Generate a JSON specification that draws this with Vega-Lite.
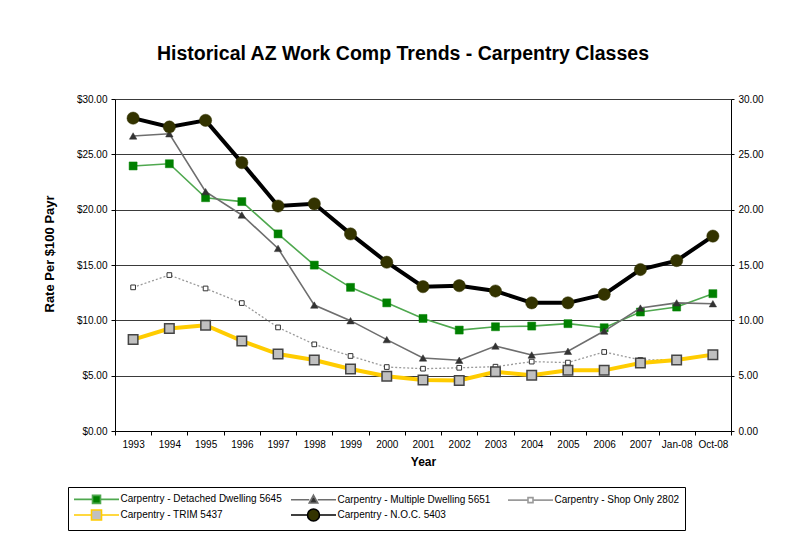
{
  "$schema": "https://vega.github.io/schema/vega-lite/v6.json",
  "autosize": {"type": "none"},
  "padding": {"left": 115, "top": 99, "right": 74, "bottom": 108},
  "width": 616,
  "height": 332,
  "background": "#ffffff",
  "title": {
    "text": "Historical AZ Work Comp Trends - Carpentry Classes",
    "fontSize": 19.5,
    "fontWeight": "bold",
    "font": "Liberation Sans",
    "color": "#000000",
    "anchor": "middle",
    "frame": "bounds",
    "offset": 30
  },
  "datasets": {
    "rates": [
      {"year": "1993", "series": "Carpentry - Detached  Dwelling 5645", "rate": 23.95},
      {"year": "1994", "series": "Carpentry - Detached  Dwelling 5645", "rate": 24.15},
      {"year": "1995", "series": "Carpentry - Detached  Dwelling 5645", "rate": 21.08},
      {"year": "1996", "series": "Carpentry - Detached  Dwelling 5645", "rate": 20.73},
      {"year": "1997", "series": "Carpentry - Detached  Dwelling 5645", "rate": 17.81},
      {"year": "1998", "series": "Carpentry - Detached  Dwelling 5645", "rate": 14.99},
      {"year": "1999", "series": "Carpentry - Detached  Dwelling 5645", "rate": 12.98},
      {"year": "2000", "series": "Carpentry - Detached  Dwelling 5645", "rate": 11.58},
      {"year": "2001", "series": "Carpentry - Detached  Dwelling 5645", "rate": 10.17},
      {"year": "2002", "series": "Carpentry - Detached  Dwelling 5645", "rate": 9.12},
      {"year": "2003", "series": "Carpentry - Detached  Dwelling 5645", "rate": 9.42},
      {"year": "2004", "series": "Carpentry - Detached  Dwelling 5645", "rate": 9.48},
      {"year": "2005", "series": "Carpentry - Detached  Dwelling 5645", "rate": 9.7},
      {"year": "2006", "series": "Carpentry - Detached  Dwelling 5645", "rate": 9.33},
      {"year": "2007", "series": "Carpentry - Detached  Dwelling 5645", "rate": 10.75},
      {"year": "Jan-08", "series": "Carpentry - Detached  Dwelling 5645", "rate": 11.2},
      {"year": "Oct-08", "series": "Carpentry - Detached  Dwelling 5645", "rate": 12.41},

      {"year": "1993", "series": "Carpentry - Multiple  Dwelling 5651", "rate": 26.66},
      {"year": "1994", "series": "Carpentry - Multiple  Dwelling 5651", "rate": 26.86},
      {"year": "1995", "series": "Carpentry - Multiple  Dwelling 5651", "rate": 21.63},
      {"year": "1996", "series": "Carpentry - Multiple  Dwelling 5651", "rate": 19.52},
      {"year": "1997", "series": "Carpentry - Multiple  Dwelling 5651", "rate": 16.5},
      {"year": "1998", "series": "Carpentry - Multiple  Dwelling 5651", "rate": 11.38},
      {"year": "1999", "series": "Carpentry - Multiple  Dwelling 5651", "rate": 9.97},
      {"year": "2000", "series": "Carpentry - Multiple  Dwelling 5651", "rate": 8.26},
      {"year": "2001", "series": "Carpentry - Multiple  Dwelling 5651", "rate": 6.6},
      {"year": "2002", "series": "Carpentry - Multiple  Dwelling 5651", "rate": 6.39},
      {"year": "2003", "series": "Carpentry - Multiple  Dwelling 5651", "rate": 7.68},
      {"year": "2004", "series": "Carpentry - Multiple  Dwelling 5651", "rate": 6.87},
      {"year": "2005", "series": "Carpentry - Multiple  Dwelling 5651", "rate": 7.2},
      {"year": "2006", "series": "Carpentry - Multiple  Dwelling 5651", "rate": 9.03},
      {"year": "2007", "series": "Carpentry - Multiple  Dwelling 5651", "rate": 11.11},
      {"year": "Jan-08", "series": "Carpentry - Multiple  Dwelling 5651", "rate": 11.58},
      {"year": "Oct-08", "series": "Carpentry - Multiple  Dwelling 5651", "rate": 11.5},

      {"year": "1993", "series": "Carpentry - Shop Only 2802", "rate": 12.98},
      {"year": "1994", "series": "Carpentry - Shop Only 2802", "rate": 14.09},
      {"year": "1995", "series": "Carpentry - Shop Only 2802", "rate": 12.88},
      {"year": "1996", "series": "Carpentry - Shop Only 2802", "rate": 11.56},
      {"year": "1997", "series": "Carpentry - Shop Only 2802", "rate": 9.36},
      {"year": "1998", "series": "Carpentry - Shop Only 2802", "rate": 7.83},
      {"year": "1999", "series": "Carpentry - Shop Only 2802", "rate": 6.78},
      {"year": "2000", "series": "Carpentry - Shop Only 2802", "rate": 5.78},
      {"year": "2001", "series": "Carpentry - Shop Only 2802", "rate": 5.63},
      {"year": "2002", "series": "Carpentry - Shop Only 2802", "rate": 5.71},
      {"year": "2003", "series": "Carpentry - Shop Only 2802", "rate": 5.81},
      {"year": "2004", "series": "Carpentry - Shop Only 2802", "rate": 6.27},
      {"year": "2005", "series": "Carpentry - Shop Only 2802", "rate": 6.18},
      {"year": "2006", "series": "Carpentry - Shop Only 2802", "rate": 7.14},
      {"year": "2007", "series": "Carpentry - Shop Only 2802", "rate": 6.42},
      {"year": "Jan-08", "series": "Carpentry - Shop Only 2802", "rate": 6.45},
      {"year": "Oct-08", "series": "Carpentry - Shop Only 2802", "rate": 6.93},

      {"year": "1993", "series": "Carpentry - TRIM 5437", "rate": 8.26},
      {"year": "1994", "series": "Carpentry - TRIM 5437", "rate": 9.26},
      {"year": "1995", "series": "Carpentry - TRIM 5437", "rate": 9.56},
      {"year": "1996", "series": "Carpentry - TRIM 5437", "rate": 8.14},
      {"year": "1997", "series": "Carpentry - TRIM 5437", "rate": 6.95},
      {"year": "1998", "series": "Carpentry - TRIM 5437", "rate": 6.42},
      {"year": "1999", "series": "Carpentry - TRIM 5437", "rate": 5.6},
      {"year": "2000", "series": "Carpentry - TRIM 5437", "rate": 4.94},
      {"year": "2001", "series": "Carpentry - TRIM 5437", "rate": 4.61},
      {"year": "2002", "series": "Carpentry - TRIM 5437", "rate": 4.56},
      {"year": "2003", "series": "Carpentry - TRIM 5437", "rate": 5.36},
      {"year": "2004", "series": "Carpentry - TRIM 5437", "rate": 5.03},
      {"year": "2005", "series": "Carpentry - TRIM 5437", "rate": 5.48},
      {"year": "2006", "series": "Carpentry - TRIM 5437", "rate": 5.48},
      {"year": "2007", "series": "Carpentry - TRIM 5437", "rate": 6.15},
      {"year": "Jan-08", "series": "Carpentry - TRIM 5437", "rate": 6.42},
      {"year": "Oct-08", "series": "Carpentry - TRIM 5437", "rate": 6.9},

      {"year": "1993", "series": "Carpentry - N.O.C. 5403", "rate": 28.27},
      {"year": "1994", "series": "Carpentry - N.O.C. 5403", "rate": 27.47},
      {"year": "1995", "series": "Carpentry - N.O.C. 5403", "rate": 28.07},
      {"year": "1996", "series": "Carpentry - N.O.C. 5403", "rate": 24.25},
      {"year": "1997", "series": "Carpentry - N.O.C. 5403", "rate": 20.33},
      {"year": "1998", "series": "Carpentry - N.O.C. 5403", "rate": 20.53},
      {"year": "1999", "series": "Carpentry - N.O.C. 5403", "rate": 17.81},
      {"year": "2000", "series": "Carpentry - N.O.C. 5403", "rate": 15.25},
      {"year": "2001", "series": "Carpentry - N.O.C. 5403", "rate": 13.04},
      {"year": "2002", "series": "Carpentry - N.O.C. 5403", "rate": 13.13},
      {"year": "2003", "series": "Carpentry - N.O.C. 5403", "rate": 12.65},
      {"year": "2004", "series": "Carpentry - N.O.C. 5403", "rate": 11.58},
      {"year": "2005", "series": "Carpentry - N.O.C. 5403", "rate": 11.58},
      {"year": "2006", "series": "Carpentry - N.O.C. 5403", "rate": 12.35},
      {"year": "2007", "series": "Carpentry - N.O.C. 5403", "rate": 14.59},
      {"year": "Jan-08", "series": "Carpentry - N.O.C. 5403", "rate": 15.4},
      {"year": "Oct-08", "series": "Carpentry - N.O.C. 5403", "rate": 17.61}
    ]
  },
  "data": {"name": "rates"},
  "encoding": {
    "x": {
      "field": "year",
      "type": "nominal",
      "bandPosition": 0.5,
      "scale": {
        "type": "band",
        "domain": ["1993", "1994", "1995", "1996", "1997", "1998", "1999", "2000", "2001", "2002", "2003", "2004", "2005", "2006", "2007", "Jan-08", "Oct-08"],
        "paddingInner": 0,
        "paddingOuter": 0
      },
      "axis": {
        "title": "Year",
        "titleFontSize": 12,
        "titlePadding": 7,
        "labelAngle": 0,
        "labelPadding": 4,
        "tickBand": "extent",
        "tickSize": 4,
        "grid": false
      }
    }
  },
  "layer": [
    {
      "transform": [{"filter": "datum.series === 'Carpentry - Detached  Dwelling 5645'"}],
      "mark": {"type": "line", "stroke": "#4fa84f", "strokeWidth": 1.6},
      "encoding": {
        "y": {
          "field": "rate",
          "type": "quantitative",
          "scale": {"domain": [0, 30], "nice": false, "zero": true},
          "axis": {
            "orient": "left",
            "format": "$.2f",
            "values": [0, 5, 10, 15, 20, 25, 30],
            "grid": true,
            "gridColor": "#3a3a3a",
            "gridWidth": 1,
            "tickSize": 4,
            "labelPadding": 4,
            "title": "Rate Per $100 Payr",
            "titleFontSize": 13,
            "titleAngle": 270,
            "titleAlign": "left",
            "titleBaseline": "bottom",
            "titleX": -59,
            "titleY": 213
          }
        }
      }
    },
    {
      "transform": [{"filter": "datum.series === 'Carpentry - Detached  Dwelling 5645'"}],
      "mark": {"type": "point", "shape": "square", "filled": true, "fill": "#008000", "stroke": "#008000", "strokeWidth": 0.5, "size": 64, "opacity": 1},
      "encoding": {
        "y": {
          "field": "rate",
          "type": "quantitative",
          "axis": {
            "orient": "right",
            "format": ".2f",
            "values": [0, 5, 10, 15, 20, 25, 30],
            "grid": false,
            "tickSize": 3,
            "labelPadding": 4,
            "title": null
          }
        }
      }
    },
    {
      "transform": [{"filter": "datum.series === 'Carpentry - Multiple  Dwelling 5651'"}],
      "mark": {"type": "line", "stroke": "#6e6e6e", "strokeWidth": 1.6},
      "encoding": {"y": {"field": "rate", "type": "quantitative", "axis": null}}
    },
    {
      "transform": [{"filter": "datum.series === 'Carpentry - Multiple  Dwelling 5651'"}],
      "mark": {"type": "point", "shape": "triangle-up", "filled": true, "fill": "#333333", "stroke": "#333333", "strokeWidth": 0.5, "size": 55, "opacity": 1},
      "encoding": {"y": {"field": "rate", "type": "quantitative", "axis": null}}
    },
    {
      "transform": [{"filter": "datum.series === 'Carpentry - Shop Only 2802'"}],
      "mark": {"type": "line", "stroke": "#9a9a9a", "strokeWidth": 1.3, "strokeDash": [2, 2]},
      "encoding": {"y": {"field": "rate", "type": "quantitative", "axis": null}}
    },
    {
      "transform": [{"filter": "datum.series === 'Carpentry - Shop Only 2802'"}],
      "mark": {"type": "point", "shape": "square", "filled": true, "fill": "#ffffff", "stroke": "#333333", "strokeWidth": 1, "size": 22, "opacity": 1},
      "encoding": {"y": {"field": "rate", "type": "quantitative", "axis": null}}
    },
    {
      "transform": [{"filter": "datum.series === 'Carpentry - TRIM 5437'"}],
      "mark": {"type": "line", "stroke": "#ffcc00", "strokeWidth": 4},
      "encoding": {"y": {"field": "rate", "type": "quantitative", "axis": null}}
    },
    {
      "transform": [{"filter": "datum.series === 'Carpentry - TRIM 5437'"}],
      "mark": {"type": "point", "shape": "square", "filled": true, "fill": "#c0c0c0", "stroke": "#444444", "strokeWidth": 1.5, "size": 90, "opacity": 1},
      "encoding": {"y": {"field": "rate", "type": "quantitative", "axis": null}}
    },
    {
      "transform": [{"filter": "datum.series === 'Carpentry - N.O.C. 5403'"}],
      "mark": {"type": "line", "stroke": "#000000", "strokeWidth": 4},
      "encoding": {"y": {"field": "rate", "type": "quantitative", "axis": null}}
    },
    {
      "transform": [{"filter": "datum.series === 'Carpentry - N.O.C. 5403'"}],
      "mark": {"type": "point", "shape": "circle", "filled": true, "fill": "#333300", "stroke": "#333300", "strokeWidth": 0.5, "size": 150, "opacity": 1},
      "encoding": {"y": {"field": "rate", "type": "quantitative", "axis": null}}
    },
    {
      "transform": [{"filter": "datum.rate < -100"}],
      "mark": {"type": "point", "filled": true, "size": 100, "opacity": 1},
      "encoding": {
        "y": {"field": "rate", "type": "quantitative", "axis": null},
        "shape": {
          "field": "series",
          "type": "nominal",
          "scale": {
            "domain": ["Carpentry - Detached  Dwelling 5645", "Carpentry - Multiple  Dwelling 5651", "Carpentry - Shop Only 2802", "Carpentry - TRIM 5437", "Carpentry - N.O.C. 5403"],
            "range": [
              "M-4.5,0H-0.8M0.8,0H4.5M-0.8,-0.8H0.8V0.8H-0.8Z",
              "M-4.5,0H-0.85M0.85,0H4.5M0,-0.9L0.85,0.65H-0.85Z",
              "M-4.5,0H-0.5M0.5,0H4.5M-0.5,-0.5H0.5V0.5H-0.5Z",
              "M-4.5,0H-1M1,0H4.5M-1,-1H1V1H-1Z",
              "M-4.5,0H-1.2M1.2,0H4.5M1.2,0A1.2,1.2,0,1,1,-1.2,0A1.2,1.2,0,1,1,1.2,0Z"
            ]
          },
          "legend": {
            "orient": "none",
            "legendX": -47,
            "legendY": 388,
            "columns": 3,
            "direction": "horizontal",
            "title": null
          }
        },
        "fill": {
          "field": "series",
          "type": "nominal",
          "scale": {
            "domain": ["Carpentry - Detached  Dwelling 5645", "Carpentry - Multiple  Dwelling 5651", "Carpentry - Shop Only 2802", "Carpentry - TRIM 5437", "Carpentry - N.O.C. 5403"],
            "range": ["#008000", "#333333", "#ffffff", "#c0c0c0", "#333300"]
          }
        },
        "stroke": {
          "field": "series",
          "type": "nominal",
          "scale": {
            "domain": ["Carpentry - Detached  Dwelling 5645", "Carpentry - Multiple  Dwelling 5651", "Carpentry - Shop Only 2802", "Carpentry - TRIM 5437", "Carpentry - N.O.C. 5403"],
            "range": ["#4fa84f", "#6e6e6e", "#9a9a9a", "#ffcc00", "#000000"]
          }
        },
        "strokeWidth": {
          "field": "series",
          "type": "nominal",
          "scale": {
            "domain": ["Carpentry - Detached  Dwelling 5645", "Carpentry - Multiple  Dwelling 5651", "Carpentry - Shop Only 2802", "Carpentry - TRIM 5437", "Carpentry - N.O.C. 5403"],
            "range": [1.6, 1.6, 1.3, 3.5, 3.5]
          }
        }
      }
    }
  ],
  "resolve": {"axis": {"y": "independent"}},
  "config": {
    "font": "Liberation Sans",
    "view": {"stroke": null},
    "axis": {
      "labelFont": "Liberation Sans",
      "labelFontSize": 10,
      "labelColor": "#000000",
      "domainColor": "#000000",
      "domainWidth": 1,
      "tickColor": "#000000",
      "titleFont": "Liberation Sans",
      "titleFontWeight": "bold",
      "titleColor": "#000000"
    },
    "legend": {
      "strokeColor": "#000000",
      "fillColor": "#ffffff",
      "padding": 5,
      "labelFont": "Liberation Sans",
      "labelFontSize": 10,
      "labelColor": "#000000",
      "labelLimit": 300,
      "symbolSize": 100,
      "symbolOffset": 17.5,
      "labelOffset": 18,
      "columnPadding": 2,
      "rowPadding": -3,
      "gridAlign": "all"
    }
  }
}
